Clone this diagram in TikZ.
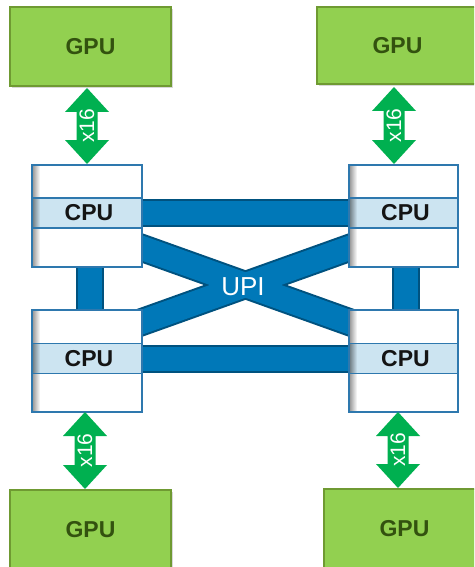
\documentclass[tikz,border=0pt]{standalone}
\usepackage{fontspec}
\setmainfont{Liberation Sans}
\usetikzlibrary{calc,shadows}
\definecolor{gpufill}{HTML}{92D050}
\definecolor{gpuedge}{HTML}{6F9A32}
\definecolor{gputext}{HTML}{33520F}
\definecolor{pcie}{HTML}{00B050}
\definecolor{cpuedge}{HTML}{2E78AE}
\definecolor{cpuband}{HTML}{CCE4F1}
\definecolor{cputext}{HTML}{141414}
\definecolor{upi}{HTML}{0078B8}
\definecolor{upidark}{HTML}{00527F}
\tikzset{
  gpubox/.style={draw=gpuedge, line width=1.2pt, fill=gpufill, inner sep=0pt, outer sep=0pt,
    minimum width=161pt, minimum height=79pt, text=gputext,
    font=\fontsize{23}{27}\selectfont\bfseries,
    drop shadow={shadow xshift=2pt, shadow yshift=-2pt, opacity=0.3}},
  cpubox/.style={draw=cpuedge, line width=1.2pt, fill=white, inner sep=0pt, outer sep=0pt,
    minimum width=110pt, minimum height=102pt},
  cpuband/.style={draw=cpuedge, line width=1.2pt, fill=cpuband, inner sep=0pt, outer sep=0pt,
    minimum width=110pt, minimum height=30pt},
  cpulabel/.style={text=cputext, font=\fontsize{23}{27}\selectfont\bfseries, inner sep=0pt},
  upiouter/.style={line width=28pt, draw=upidark},
  upiinner/.style={line width=24pt, draw=upi},
  pcielabel/.style={rotate=90, text=white, inner sep=0pt, font=\fontsize{21}{24}\selectfont},
  upilabel/.style={text=white, inner sep=0pt, font=\fontsize{26}{30}\selectfont},
}
\newcommand\pcielink[3]{%
  \fill[pcie] let \p1=(#1), \p2=(#2) in
    (\x1,\y1) -- (\x1+22pt,\y1-24pt) -- (\x1+10.5pt,\y1-24pt) -- (\x1+10.5pt,\y2+24pt)
    -- (\x1+22pt,\y2+24pt) -- (\x1,\y2) -- (\x1-22pt,\y2+24pt) -- (\x1-10.5pt,\y2+24pt)
    -- (\x1-10.5pt,\y1-24pt) -- (\x1-22pt,\y1-24pt) -- cycle;
  \node[pcielabel] (#3) at ($(#1)!0.5!(#2)$) {x16};
}
\newcommand\cpuleftshade[2]{% box, band
  \shade[left color=black!40, right color=white]
    ([xshift=0.6pt,yshift=-0.6pt]#1.north west) rectangle ([xshift=8pt]#2.north west);
  \shade[left color=cpuband!55!black, right color=cpuband]
    ([xshift=0.6pt,yshift=-0.6pt]#2.north west) rectangle ([xshift=8pt,yshift=0.6pt]#2.south west);
  \shade[left color=black!40, right color=white]
    ([xshift=0.6pt]#2.south west) rectangle ([xshift=8pt,yshift=0.6pt]#1.south west);
}
\begin{document}
\begin{tikzpicture}[x=1pt,y=-1pt]
\useasboundingbox[fill=white] (0,0) rectangle (474,567);
\begin{scope}
\clip (0,0) rectangle (474,567);
% CPU geometry (placeholders for anchors)
\path
  node[cpubox, draw=none, fill=none] (cpu1) at (87,216) {}
  node[cpubox, draw=none, fill=none, minimum width=109pt] (cpu2) at (403.5,216) {}
  node[cpubox, draw=none, fill=none] (cpu3) at (87,361) {}
  node[cpubox, draw=none, fill=none, minimum width=109pt] (cpu4) at (403.5,361) {};
\path
  node[cpuband, draw=none, fill=none] (cpu1b) at (87,213) {}
  node[cpuband, draw=none, fill=none, minimum width=109pt] (cpu2b) at (403.5,213) {}
  node[cpuband, draw=none, fill=none] (cpu3b) at (87,358.5) {}
  node[cpuband, draw=none, fill=none, minimum width=109pt] (cpu4b) at (403.5,358.5) {};
% UPI bars
\foreach \s in {upiouter,upiinner}{
  \draw[\s] (cpu1b.east) -- (cpu2b.west);
  \draw[\s] (cpu3b.east) -- (cpu4b.west);
  \draw[\s] ([xshift=3pt]cpu1.south) -- ([xshift=3pt]cpu3.north);
  \draw[\s] ([xshift=2pt]cpu2.south) -- ([xshift=2pt]cpu4.north);
  \draw[\s, shorten <=-8pt, shorten >=-8pt] ([yshift=19pt]cpu1.south east) -- ([yshift=-12pt]cpu4.north west);
  \draw[\s, shorten <=-8pt, shorten >=-8pt] ([yshift=-12pt]cpu3.north east) -- ([yshift=19pt]cpu2.south west);
}
\node[upilabel] (upi) at (243,287) {UPI};
% CPU boxes drawn
\node[cpubox] at (cpu1) {};
\node[cpubox, minimum width=109pt] at (cpu2) {};
\node[cpubox] at (cpu3) {};
\node[cpubox, minimum width=109pt] at (cpu4) {};
\node[cpuband] at (cpu1b) {};
\node[cpuband, minimum width=109pt] at (cpu2b) {};
\node[cpuband] at (cpu3b) {};
\node[cpuband, minimum width=109pt] at (cpu4b) {};
\cpuleftshade{cpu1}{cpu1b}
\cpuleftshade{cpu2}{cpu2b}
\cpuleftshade{cpu3}{cpu3b}
\cpuleftshade{cpu4}{cpu4b}
\foreach \n in {cpu1,cpu2,cpu3,cpu4}{
  \draw[cpuedge, line width=1.2pt] (\n.north west) rectangle (\n.south east);
  \draw[cpuedge, line width=1.2pt] (\n b.north west) -- (\n b.north east) (\n b.south west) -- (\n b.south east);
  \node[cpulabel] (\n t) at ([xshift=2pt]\n b.center) {CPU};
}
% GPUs
\node[gpubox] (g1) at (90.5,46.5) {GPU};
\node[gpubox, minimum height=77pt] (g2) at (397.5,45.5) {GPU};
\node[gpubox] (g3) at (90.5,529.5) {GPU};
\node[gpubox] (g4) at (404.5,528.5) {GPU};
% PCIe links
\coordinate (a1t) at (87,88);   \coordinate (a1b) at (87,164);
\coordinate (a2t) at (394,87);  \coordinate (a2b) at (394,164);
\coordinate (a3t) at (85,412);  \coordinate (a3b) at (85,489);
\coordinate (a4t) at (398,412); \coordinate (a4b) at (398,488);
\pcielink{a1t}{a1b}{x1}
\pcielink{a2t}{a2b}{x2}
\pcielink{a3t}{a3b}{x3}
\pcielink{a4t}{a4b}{x4}
\end{scope}
\end{tikzpicture}
\end{document}
